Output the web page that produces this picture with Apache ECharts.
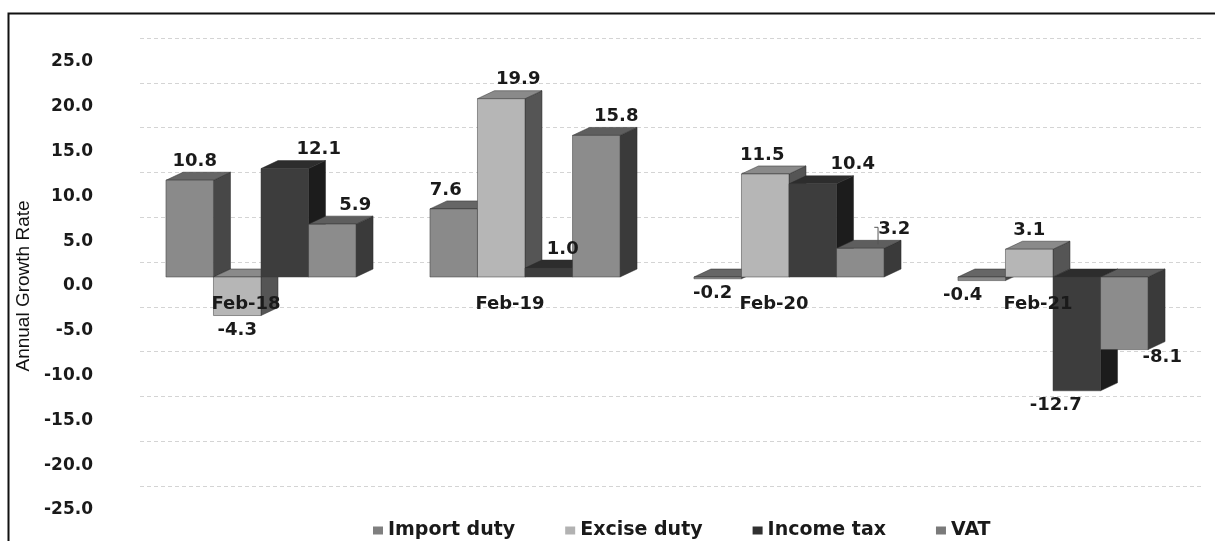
<!DOCTYPE html>
<html>
<head>
<meta charset="utf-8">
<title>Annual Growth Rate of Tax Revenue</title>
<script src="https://cdn.jsdelivr.net/npm/echarts@6/dist/echarts.min.js"></script>
<style>
  html, body { margin: 0; padding: 0; background: #ffffff; }
  #chart { width: 1215px; height: 541px; }
</style>
</head>
<body>
<div id="chart"></div>
<script>
// Annual growth rate (%) of tax revenue, by tax type
const categories = ['Feb-18', 'Feb-19', 'Feb-20', 'Feb-21'];
const importDuty = [10.8, 7.6, -0.2, -0.4];
const exciseDuty = [-4.3, 19.9, 11.5, 3.1];
const incomeTax  = [12.1, 1.0, 10.4, -12.7];
const vat        = [5.9, 15.8, 3.2, -8.1];
const seriesNames = ['Import duty', 'Excise duty', 'Income tax', 'VAT'];
const yMin = -25, yMax = 25, yStep = 5;

// Shading for the pseudo-3D columns: front face, top face, side face
const shades = [
  { legend: '#7f7f7f', front: '#8a8a8a', top: '#666666', side: '#474747' },
  { legend: '#b2b2b2', front: '#b6b6b6', top: '#8a8a8a', side: '#555555' },
  { legend: '#303030', front: '#3d3d3d', top: '#2d2d2d', side: '#1c1c1c' },
  { legend: '#7a7a7a', front: '#8c8c8c', top: '#5e5e5e', side: '#3a3a3a' }
];

// Horizontal nudges of the value labels, so neighbouring labels don't collide
const labelDx = [
  [5, -8, -5, -19],
  [0, 17, -3, 0],
  [34, 14, 40, -21],
  [23, 20, 34, 38]
];

const LABEL_FONT = 'bold 18px "DejaVu Sans", Verdana, sans-serif';
const DEPTH_X = 17, DEPTH_Y = 8;   // column depth
const LIFT = 9;                    // front plane sits slightly above the axis baseline
const SHIFT_X = 15;                // front plane offset to the right

const GRID_TOP = 62, GRID_BOTTOM = 31, CHART_H = 541;
// distance from the bottom of the plot to the zero line
const zeroFromBottom = (CHART_H - GRID_TOP - GRID_BOTTOM) * (0 - yMin) / (yMax - yMin);

function makeRenderer(k) {
  const c = shades[k];
  return function (params, api) {
    const ci = api.value(0);
    const v = api.value(1);
    const base = api.coord([ci, 0]);
    const tip = api.coord([ci, v]);
    const band = api.size([1, 0])[0];
    const bw = band * 0.18;
    const x0 = base[0] + SHIFT_X - 2 * bw + k * bw;
    const x1 = x0 + bw;
    const yA = tip[1] - LIFT;
    const yB = base[1] - LIFT;
    const yTop = Math.min(yA, yB);
    const yBot = Math.max(yA, yB, yTop + 1.5);
    const children = [
      {
        type: 'polygon',
        shape: { points: [[x1, yTop], [x1 + DEPTH_X, yTop - DEPTH_Y], [x1 + DEPTH_X, yBot - DEPTH_Y], [x1, yBot]] },
        style: { fill: c.side, stroke: '#2a2a2a', lineWidth: 0.5 }
      },
      {
        type: 'polygon',
        shape: { points: [[x0, yTop], [x0 + DEPTH_X, yTop - DEPTH_Y], [x1 + DEPTH_X, yTop - DEPTH_Y], [x1, yTop]] },
        style: { fill: c.top, stroke: '#2a2a2a', lineWidth: 0.5 }
      },
      {
        type: 'rect',
        shape: { x: x0, y: yTop, width: bw, height: yBot - yTop },
        style: { fill: c.front, stroke: '#3a3a3a', lineWidth: 0.5 }
      }
    ];
    const cx = (x0 + x1) / 2 + labelDx[k][ci];
    let ly;
    if (v >= 0) {
      ly = yTop - DEPTH_Y - 11;
    } else {
      ly = yBot + (k === 3 && ci === 3 ? 8 : 15);
    }
    // small leader from a shifted label back to its column
    if (labelDx[k][ci] > 30 && v >= 0 && v < 5) {
      children.push({
        type: 'polyline',
        shape: { points: [[x1 - 6, yTop - 4], [x1 - 6, ly - 2], [cx - 20, ly - 2]] },
        style: { stroke: '#555555', lineWidth: 1, fill: 'none' }
      });
    }
    children.push({
      type: 'text',
      z2: 100,
      style: {
        text: v.toFixed(1),
        x: cx,
        y: ly,
        align: 'center',
        verticalAlign: 'middle',
        font: LABEL_FONT,
        fill: '#1a1a1a'
      }
    });
    return { type: 'group', children: children };
  };
}

const valueSets = [importDuty, exciseDuty, incomeTax, vat];

const series = valueSets.map(function (vals, k) {
  return {
    type: 'custom',
    name: seriesNames[k],
    xAxisIndex: 0,
    yAxisIndex: 0,
    renderItem: makeRenderer(k),
    itemStyle: { color: shades[k].legend },
    encode: { x: 0, y: 1 },
    clip: false,
    data: vals.map(function (v, i) { return [i, v]; })
  };
});

const chart = echarts.init(document.getElementById('chart'), null, { renderer: 'canvas' });

chart.setOption({
  backgroundColor: '#ffffff',
  animation: false,
  graphic: [
    {
      type: 'rect',
      left: 6,
      top: 11,
      shape: { width: 1230, height: 560 },
      style: { fill: 'none', stroke: '#111111', lineWidth: 2 },
      silent: true,
      z: 0
    }
  ],
  grid: [
    { left: 114, right: 45, top: GRID_TOP, bottom: GRID_BOTTOM },
    // back wall gridlines, set back from the front plane
    { left: 140, right: 14, top: 38, bottom: 55 }
  ],
  legend: {
    data: seriesNames,
    left: 368,
    top: 516,
    icon: 'rect',
    itemWidth: 10,
    itemHeight: 8,
    itemGap: 50,
    selectedMode: false,
    textStyle: {
      fontFamily: '"DejaVu Sans", Verdana, sans-serif',
      fontWeight: 'bold',
      fontSize: 19,
      color: '#1a1a1a'
    }
  },
  xAxis: [
    {
      type: 'category',
      gridIndex: 0,
      data: categories,
      z: 10,
      position: 'bottom',
      offset: -zeroFromBottom,
      axisLine: { show: false, onZero: false },
      axisTick: { show: false },
      splitLine: { show: false },
      axisLabel: {
        margin: 9,
        fontFamily: '"DejaVu Sans", Verdana, sans-serif',
        fontWeight: 'bold',
        fontSize: 18,
        color: '#1a1a1a'
      }
    },
    {
      type: 'category',
      gridIndex: 1,
      data: categories,
      show: false
    }
  ],
  yAxis: [
    {
      type: 'value',
      gridIndex: 0,
      min: yMin,
      max: yMax,
      interval: yStep,
      name: 'Annual Growth Rate',
      nameLocation: 'middle',
      nameGap: 80,
      nameRotate: 90,
      nameTextStyle: {
        fontFamily: '"Liberation Sans Narrow", "Arial Narrow", "Liberation Sans", sans-serif',
        fontSize: 19,
        color: '#111111'
      },
      axisLine: { show: false },
      axisTick: { show: false },
      splitLine: { show: false },
      axisLabel: {
        margin: 21,
        formatter: function (v) { return v.toFixed(1); },
        fontFamily: '"DejaVu Sans", Verdana, sans-serif',
        fontWeight: 'bold',
        fontSize: 17,
        color: '#1a1a1a'
      }
    },
    {
      type: 'value',
      gridIndex: 1,
      min: yMin,
      max: yMax,
      interval: yStep,
      axisLine: { show: false },
      axisTick: { show: false },
      axisLabel: { show: false },
      splitLine: { show: true, lineStyle: { color: '#d4d4d4', type: [4, 3], width: 1 } }
    }
  ],
  series: series
});
</script>
</body>
</html>
